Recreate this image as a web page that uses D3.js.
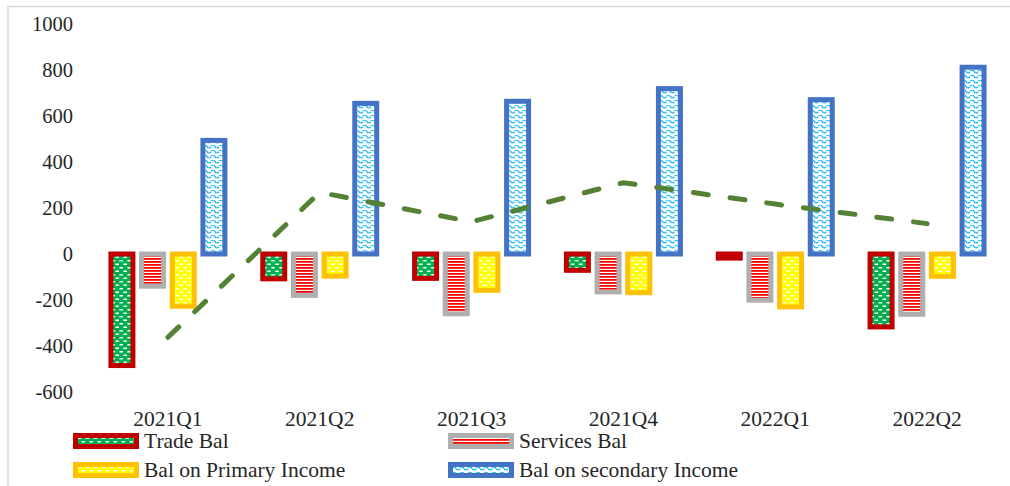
<!DOCTYPE html>
<html lang="en">
  <head>
    <meta charset="UTF-8" />
    <title>Balance components by quarter</title>
    <style>
      body {
        margin: 0;
        background: #fff;
      }
      svg {
        display: block;
      }
      text {
        font-family: "Liberation Serif", "DejaVu Serif", "Times New Roman", serif;
        font-size: 21.5px;
        fill: #262626;
      }
      .ylab {
        font-size: 20.5px;
      }
    </style>
  </head>
  <body>
    <svg width="1010" height="486"></svg>
    <script src="https://d3js.org/d3.v7.min.js"></script>
    <script>
      // data
      const categories = ["2021Q1", "2021Q2", "2021Q3", "2021Q4", "2022Q1", "2022Q2"];
      const tradeBal = [-485, -108, -106, -71, -18, -317];
      const servicesBal = [-140, -180, -260, -165, -201, -262];
      const primaryIncome = [-227, -96, -158, -168, -230, -97];
      const secondaryIncome = [494, 655, 664, 719, 671, 812];
      const lineValues = [-362, 268, 140, 310, 217, 132];
      const yTicks = [-600, -400, -200, 0, 200, 400, 600, 800, 1000];

      const series = [
        { key: "trade", name: "Trade Bal", values: tradeBal, stroke: "#C00000", fill: "url(#patTrade)" },
        { key: "services", name: "Services Bal", values: servicesBal, stroke: "#AFAFAF", fill: "url(#patServices)" },
        { key: "primary", name: "Bal on Primary Income", values: primaryIncome, stroke: "#FFC000", fill: "url(#patPrimary)" },
        { key: "secondary", name: "Bal on secondary Income", values: secondaryIncome, stroke: "#4472C4", fill: "url(#patSecondary)" }
      ];

      const svg = d3.select("svg");

      // patterns
      const defs = svg.append("defs");
      function dashPattern(id, bg) {
        const p = defs.append("pattern").attr("id", id)
          .attr("patternUnits", "userSpaceOnUse").attr("width", 8).attr("height", 7);
        p.append("rect").attr("width", 8).attr("height", 7).attr("fill", bg);
        p.append("rect").attr("x", 0.5).attr("y", 1).attr("width", 3.5).attr("height", 1.5).attr("fill", "#fff");
        p.append("rect").attr("x", 4.5).attr("y", 4.5).attr("width", 3.5).attr("height", 1.5).attr("fill", "#fff");
      }
      dashPattern("patTrade", "#00B050");
      dashPattern("patPrimary", "#FFFF00");

      let ps = defs.append("pattern").attr("id", "patServices")
        .attr("patternUnits", "userSpaceOnUse").attr("width", 6).attr("height", 3);
      ps.append("rect").attr("width", 6).attr("height", 3).attr("fill", "#fff");
      ps.append("rect").attr("width", 6).attr("height", 1.8).attr("fill", "#FF0000");

      let pw = defs.append("pattern").attr("id", "patSecondary")
        .attr("patternUnits", "userSpaceOnUse").attr("width", 8).attr("height", 5);
      pw.append("rect").attr("width", 8).attr("height", 5).attr("fill", "#fff");
      pw.append("path").attr("d", "M0,1.5 Q2,4.5 4,1.5 T8,1.5")
        .attr("fill", "none").attr("stroke", "#00B0F0").attr("stroke-width", 1.4)
        .attr("stroke-dasharray", "2,0.8");

      // frame
      svg.append("path").attr("d", "M8,486 V6.5 H1010")
        .attr("fill", "none").attr("stroke", "#D9D9D9").attr("stroke-width", 1.5);

      // scales
      const x0 = d3.scaleBand().domain(categories).range([92, 1003]).paddingInner(0);
      const groupW = 114;
      const x1 = d3.scaleBand().domain(series.map((s) => s.key)).range([0, groupW]).paddingInner(0.283);
      const y = d3.scaleLinear().domain([-600, 1000]).range([392, 24]);

      // y labels
      svg.append("g").selectAll("text").data(yTicks).enter().append("text")
        .attr("class", "ylab")
        .attr("x", 73).attr("y", (d) => y(d)).attr("dy", "0.35em")
        .attr("text-anchor", "end").text((d) => d);

      // bars
      const groups = svg.append("g").selectAll("g").data(categories).enter().append("g")
        .attr("transform", (d) => "translate(" + (x0(d) + (x0.bandwidth() - groupW) / 2) + ",0)");
      groups.selectAll("rect")
        .data((c, i) => series.map((s) => ({ s: s, v: s.values[i] })))
        .enter().append("rect")
        .attr("x", (d) => x1(d.s.key))
        .attr("y", (d) => y(Math.max(0, d.v)))
        .attr("width", x1.bandwidth())
        .attr("height", (d) => Math.abs(y(d.v) - y(0)))
        .attr("fill", (d) => d.s.fill)
        .attr("stroke", (d) => d.s.stroke)
        .attr("stroke-width", 5);

      // dashed line
      const line = d3.line()
        .x((d, i) => x0(categories[i]) + x0.bandwidth() / 2)
        .y((d) => y(d));
      svg.append("path").datum(lineValues).attr("d", line)
        .attr("fill", "none").attr("stroke", "#548235").attr("stroke-width", 5)
        .attr("stroke-linecap", "round").attr("stroke-dasharray", "15,22");

      // category labels
      svg.append("g").selectAll("text").data(categories).enter().append("text")
        .attr("x", (d) => x0(d) + x0.bandwidth() / 2).attr("y", 426)
        .attr("text-anchor", "middle").text((d) => d);

      // legend
      const legPos = [
        { x: 73, y: 433 }, { x: 448, y: 433 },
        { x: 73, y: 462 }, { x: 448, y: 462 }
      ];
      const leg = svg.append("g").selectAll("g").data(series).enter().append("g")
        .attr("transform", (d, i) => "translate(" + legPos[i].x + "," + legPos[i].y + ")");
      leg.append("rect").attr("x", 2.5).attr("y", 2.5).attr("width", 61).attr("height", 11)
        .attr("fill", (d) => d.fill).attr("stroke", (d) => d.stroke).attr("stroke-width", 5);
      leg.append("text").attr("x", 71).attr("y", 15).text((d) => d.name);
    </script>
  </body>
</html>
